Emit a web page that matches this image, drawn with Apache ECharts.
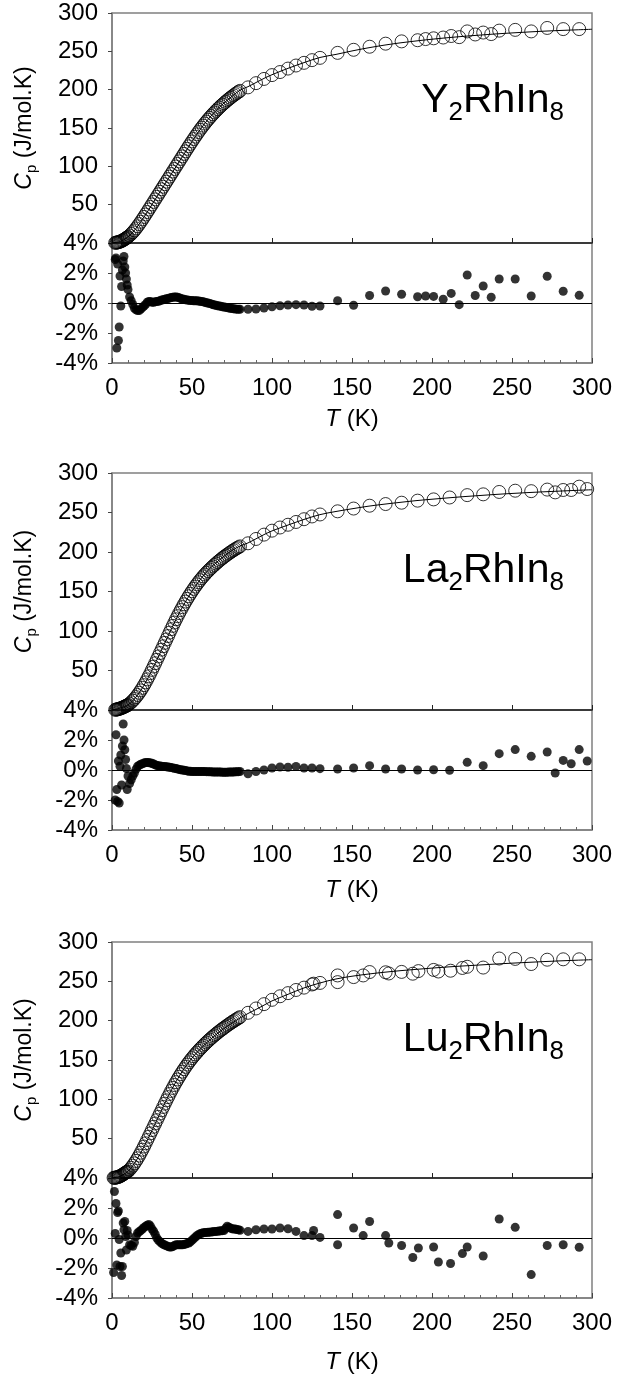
<!DOCTYPE html>
<html>
<head>
<meta charset="utf-8">
<script src="https://cdn.jsdelivr.net/npm/echarts@6/dist/echarts.min.js"></script>
<style>
html,body{margin:0;padding:0;background:#fff;}
#chart{width:617px;height:1384px;}
</style>
</head>
<body>
<div id="chart"></div>
<script>
// ---------------- DATA ----------------
const compounds = ['Y', 'La', 'Lu'];

// shared temperature grid of the dense low-T measurements (K)
const T_DENSE = [2,2.5,3,3.5,4,4.5,5,5.5,6,6.5,7,7.5,8,8.5,9,9.5,10,
  11,12,13,14,15,16,17,18,19,20,21,22,23,24,25,26,27,28,29,30,
  31,32,33,34,35,36,37,38,39,40,41,42,43,44,45,46,47,48,49,50,
  51,52,53,54,55,56,57,58,59,60,61,62,63,64,65,66,67,68,69,70,
  71,72,73,74,75,76,77,78,79,80,
  85,90,95,100,105,110,115,120,125,130];

// ---- Y2RhIn8 ----
const T1_SPARSE = [141,151,161,171,181,191,196,201,207,212,217,222,227,232,237,242,252,262,272,282,292];
const cp1_dense = [0.3,0.4,0.6,0.8,1.1,1.4,1.8,2.2,2.7,3.2,3.8,4.4,5.1,5.8,6.5,7.2,8.0,
  9.8,11.8,14.0,16.4,19.0,21.8,24.7,27.7,30.8,34.0,
  37.2,40.4,43.7,47.0,50.3,53.6,56.9,60.2,63.5,66.8,
  70.1,73.4,76.7,80.0,83.3,86.6,89.9,93.2,96.5,99.8,
  103.1,106.4,109.7,113.0,116.3,119.6,122.9,126.1,129.3,132.5,
  135.6,138.7,141.7,144.7,147.6,150.4,153.1,155.8,158.4,160.9,
  163.3,165.7,168.0,170.2,172.4,174.5,176.6,178.6,180.5,182.4,
  184.2,186.0,187.7,189.4,191.0,192.6,194.1,195.6,197.1,198.5,
  203,208.5,214,219,223,227.5,231.5,235,238.5,241.5];
const cp1_sparse = [248,252,256,260,263,264.5,266,267,268,270,268.5,276,272,274.5,272.5,277,278,276,280.5,279,279];
const res1_dense = [2.9,3.0,-3.0,2.6,-2.5,-1.6,1.8,-0.2,1.1,2.2,2.8,3.1,2.4,2.0,1.6,1.2,0.9,
  0.4,0.15,-0.1,-0.35,-0.45,-0.5,-0.5,-0.4,-0.3,-0.2,
  -0.1,0.05,0.1,0.1,0.05,0.05,0.08,0.1,0.12,0.15,
  0.2,0.22,0.25,0.28,0.3,0.33,0.36,0.38,0.4,0.4,
  0.38,0.35,0.3,0.27,0.25,0.22,0.2,0.18,0.17,0.16,
  0.15,0.15,0.15,0.13,0.12,0.1,0.08,0.05,0.02,0,
  -0.03,-0.06,-0.1,-0.13,-0.15,-0.18,-0.2,-0.22,-0.25,-0.27,
  -0.29,-0.3,-0.33,-0.35,-0.37,-0.38,-0.4,-0.41,-0.42,-0.42,
  -0.42,-0.4,-0.33,-0.25,-0.18,-0.13,-0.11,-0.13,-0.22,-0.2];
const res1_sparse = [0.15,-0.15,0.5,0.8,0.58,0.42,0.47,0.44,0.25,0.64,-0.11,1.87,0.5,1.13,0.38,1.6,1.6,0.47,1.78,0.78,0.51];

// ---- La2RhIn8 ----
const T2_SPARSE = [141,151,161,171,181,191,201,211,222,232,242,252,262,272,277,282,287,292,297];
const cp2_dense = [0.3,0.5,0.7,0.9,1.2,1.5,1.8,2.2,2.6,3.0,3.4,3.9,4.4,4.9,5.4,5.9,6.4,
  8.0,9.8,11.8,14.0,16.4,19.0,21.8,24.8,28.0,31.4,
  35.0,38.8,42.7,46.7,50.8,55.0,59.2,63.5,67.8,72.1,
  76.4,80.7,85.0,89.3,93.6,98.0,102.3,106.5,110.7,114.8,
  118.8,122.7,126.5,130.2,133.8,137.3,140.7,144.0,147.2,150.3,
  153.3,156.2,159.0,161.7,164.3,166.8,169.2,171.5,173.7,175.8,
  177.8,179.8,181.7,183.6,185.4,187.2,188.9,190.6,192.2,193.8,
  195.3,196.8,198.2,199.6,201.0,202.3,203.6,204.8,206.0,207.1,
  211,216.5,222,227,231,234.5,238,241.5,245,247.5];
const cp2_sparse = [251.5,255,258.6,260.7,262.4,265,266.6,269,272,273,276,277.6,277,279,275.5,278.5,278.5,282.7,279.7];
const res2_dense = [-2.0,2.35,-1.3,-2.1,0.6,-2.2,0.25,1.0,-1.0,1.6,3.07,2.0,1.35,0.7,0.1,-1.3,-0.4,
  -0.9,-0.65,-0.4,-0.2,0.05,0.25,0.32,0.38,0.42,0.46,
  0.5,0.5,0.5,0.47,0.45,0.4,0.35,0.3,0.28,0.27,
  0.25,0.24,0.23,0.22,0.2,0.18,0.16,0.14,0.12,0.1,
  0.07,0.04,0.02,0,-0.02,-0.04,-0.06,-0.08,-0.09,-0.1,
  -0.1,-0.1,-0.1,-0.1,-0.1,-0.1,-0.1,-0.1,-0.11,-0.11,
  -0.12,-0.12,-0.13,-0.13,-0.13,-0.14,-0.14,-0.14,-0.15,-0.15,
  -0.15,-0.15,-0.14,-0.14,-0.13,-0.13,-0.12,-0.12,-0.11,-0.1,
  -0.25,-0.1,0,0.13,0.2,0.18,0.24,0.13,0.13,0.09];
const res2_sparse = [0.07,0.13,0.29,0.07,0.07,0,0.02,-0.02,0.51,0.29,1.09,1.36,0.91,1.2,-0.2,0.64,0.42,1.36,0.6];

// ---- Lu2RhIn8 ----
const T3_LOW = [1,1.5];
const T3_SPARSE = [126,141,141,151,157,161,171,173,181,188,191.5,201,204,211.6,219,222,232,242,252,262,272,282,292];
const cp3_low = [0.2,0.3];
const cp3_dense = [0.4,0.6,0.8,1.1,1.4,1.8,2.3,2.8,3.4,4.0,4.7,5.4,6.1,6.8,7.5,8.0,8.5,
  10.6,13.0,15.7,18.6,21.7,25.0,28.5,32.2,36.0,40.0,
  44.1,48.3,52.5,56.7,60.9,65.1,69.3,73.5,77.7,81.9,
  86.1,90.3,94.5,98.7,102.8,106.8,110.7,114.5,118.2,121.8,
  125.3,128.7,132.0,135.2,138.3,141.3,144.2,147.0,149.7,152.3,
  154.8,157.2,159.5,161.8,164.0,166.1,168.2,170.2,172.2,174.1,
  176.0,177.8,179.6,181.3,183.0,184.7,186.3,187.9,189.4,190.9,
  192.4,193.9,195.3,196.7,198.1,199.4,200.7,202.0,203.3,204.5,
  210,215.5,221,226.5,231,235,239,242,246,248];
const cp3_sparse = [247,257.5,249,255.4,257.5,261.8,261.5,260,262,259.7,263,264.5,262.5,263.5,267,268.5,267.5,279,278.5,272,277.5,278,278];
const res3_low = [-2.3,3.1];
const res3_dense = [0.3,2.3,-1.8,1.7,1.8,-0.1,-1.9,-1.0,-2.5,-1.9,1.0,0.55,1.1,0.1,-0.8,0.5,0.2,
  -0.45,-0.5,-0.55,-0.3,0.1,0.33,0.42,0.5,0.6,0.7,
  0.78,0.85,0.9,0.8,0.6,0.45,0.25,0,-0.15,-0.25,
  -0.35,-0.42,-0.47,-0.52,-0.56,-0.6,-0.6,-0.57,-0.5,-0.45,
  -0.45,-0.45,-0.45,-0.45,-0.43,-0.4,-0.36,-0.33,-0.25,-0.15,
  -0.05,0.05,0.15,0.22,0.28,0.32,0.35,0.36,0.37,0.38,
  0.39,0.4,0.41,0.43,0.44,0.45,0.47,0.48,0.49,0.5,
  0.65,0.78,0.72,0.66,0.62,0.6,0.6,0.57,0.55,0.52,
  0.44,0.55,0.6,0.6,0.67,0.62,0.44,0.16,0.16,0.04];
const res3_sparse = [0.5,1.56,-0.45,0.67,0.16,1.1,0.16,-0.33,-0.5,-1.3,-0.67,-0.6,-1.6,-1.7,-1.04,-0.6,-1.2,1.27,0.71,-2.44,-0.5,-0.45,-0.62];

// fitted curves
const T_FIT = [0,5,10,15,20,25,30,35,40,45,50,55,60,65,70,75,80,85,90,95,100,
  110,120,130,140,150,160,170,180,190,200,210,220,230,240,250,260,270,280,290,300];
const fit1 = [0,1.9,8,19,34,50.2,66.8,83.3,99.5,116,132.3,147.6,161.2,172.6,182.6,191.3,199.3,203.9,209.3,214.7,219.5,
  227.8,235.3,242,246,250.5,254.5,258,261,263.5,265.8,267.8,269.6,271.2,272.7,274,275.2,276.3,277.2,278,278.8];
const fit2 = [0,2.4,6.4,16.4,31.3,50.6,71.9,93.4,114.7,133.8,150.4,164.7,176.8,186.3,194.7,202.0,207.5,211.5,216.7,222.0,226.7,
  234.1,241.2,247.3,251.3,254.7,257.9,260.5,262.8,265,266.8,268.5,270.1,271.5,272.9,274.1,275.2,276.2,277.1,278,278.8];
const fit3 = [0,2.3,8.5,21.7,39.8,60.5,82.1,103.3,122.4,138.9,152.5,163.6,173.4,182.2,190.0,196.9,203.4,209.1,214.3,219.7,225.1,
  233.5,241.6,247.9,253,256.5,259.2,261.5,263.5,265.2,266.8,268.3,269.6,270.8,272,273.1,274.1,275.1,276,276.8,277.5];

// axis ticks
const X_TICKS = {min: 0, max: 300, interval: 50};
const CP_TICKS = {min: 0, max: 300, interval: 50};
const RES_TICKS = {min: -4, max: 4, interval: 2};

// ---------------- ASSEMBLY ----------------
function check(a, b, name) { if (a.length !== b.length) throw new Error(name + ' length mismatch ' + a.length + ' vs ' + b.length); }
function zip(xs, ys) { return xs.map((x, i) => [x, ys[i]]); }

const T1 = T_DENSE.concat(T1_SPARSE);
const T2 = T_DENSE.concat(T2_SPARSE);
const T3 = T3_LOW.concat(T_DENSE, T3_SPARSE);
const cp = [cp1_dense.concat(cp1_sparse), cp2_dense.concat(cp2_sparse), cp3_low.concat(cp3_dense, cp3_sparse)];
const res = [res1_dense.concat(res1_sparse), res2_dense.concat(res2_sparse), res3_low.concat(res3_dense, res3_sparse)];
const Ts = [T1, T2, T3];
const fits = [fit1, fit2, fit3];
for (let i = 0; i < 3; i++) { check(Ts[i], cp[i], 'cp' + i); check(Ts[i], res[i], 'res' + i); check(T_FIT, fits[i], 'fit' + i); }

// layout (pixels)
const LEFT = 112, WIDTH = 480;
const layout = [
  {top: 13, upH: 230, resH: 120, name: 88, tk: 56},
  {top: 473, upH: 237, resH: 120, name: 98, tk: 60},
  {top: 942, upH: 236, resH: 120, name: 98, tk: 64}
];
const FONT = 'Liberation Sans, Arial, Helvetica, sans-serif';
const FS = 24;
const FRAME = '#808080';

const grid = [], xAxis = [], yAxis = [], series = [], graphic = [];
layout.forEach((L, i) => {
  grid.push({left: LEFT, width: WIDTH, top: L.top, height: L.upH, show: true, borderColor: FRAME, borderWidth: 1.5, backgroundColor: 'transparent'});
  grid.push({left: LEFT, width: WIDTH, top: L.top + L.upH, height: L.resH, show: true, borderColor: FRAME, borderWidth: 1.5, backgroundColor: 'transparent'});
  // x axes
  xAxis.push(Object.assign({type: 'value', gridIndex: 2 * i, position: 'bottom',
    axisLine: {show: true, onZero: false, lineStyle: {color: '#222', width: 1.5}},
    axisTick: {show: true, inside: true, length: 5, lineStyle: {color: '#222', width: 1}},
    axisLabel: {show: false}, splitLine: {show: false}}, X_TICKS));
  xAxis.push(Object.assign({type: 'value', gridIndex: 2 * i + 1, position: 'bottom',
    axisLine: {show: true, onZero: false, lineStyle: {color: FRAME, width: 1.5}},
    axisTick: {show: true, inside: true, length: 5, lineStyle: {color: '#444', width: 1}},
    minorTick: {show: true, splitNumber: 5, length: 3, lineStyle: {color: '#666', width: 1}},
    axisLabel: {show: true, fontSize: FS, fontFamily: FONT, color: '#000', margin: 13},
    splitLine: {show: false}}, X_TICKS));
  // y axes (upper left, upper right, residual left, residual right)
  yAxis.push(Object.assign({type: 'value', gridIndex: 2 * i, position: 'left',
    axisLine: {show: true, onZero: false, lineStyle: {color: FRAME, width: 1.5}},
    axisTick: {show: true, inside: false, length: 3, lineStyle: {color: '#444'}},
    axisLabel: {show: true, fontSize: FS, fontFamily: FONT, color: '#000', margin: 14,
      formatter: v => (v === 0 ? '' : String(v))},
    splitLine: {show: false}}, CP_TICKS));
  yAxis.push(Object.assign({type: 'value', gridIndex: 2 * i, position: 'right',
    axisLine: {show: false}, axisTick: {show: true, inside: true, length: 4, lineStyle: {color: '#444'}},
    axisLabel: {show: false}, splitLine: {show: false}}, CP_TICKS));
  yAxis.push(Object.assign({type: 'value', gridIndex: 2 * i + 1, position: 'left',
    axisLine: {show: true, onZero: false, lineStyle: {color: FRAME, width: 1.5}},
    axisTick: {show: true, inside: false, length: 3, lineStyle: {color: '#444'}},
    axisLabel: {show: true, fontSize: FS, fontFamily: FONT, color: '#000', margin: 14,
      formatter: v => v + '%'},
    splitLine: {show: false}}, RES_TICKS));
  yAxis.push(Object.assign({type: 'value', gridIndex: 2 * i + 1, position: 'right',
    axisLine: {show: false}, axisTick: {show: true, inside: true, length: 4, lineStyle: {color: '#444'}},
    axisLabel: {show: false}, splitLine: {show: false}}, RES_TICKS));

  // series
  series.push({type: 'line', xAxisIndex: 2 * i, yAxisIndex: 4 * i, data: zip(T_FIT, fits[i]),
    smooth: 0.35, showSymbol: false, symbol: 'none', lineStyle: {color: '#000', width: 1}, z: 2, silent: true, animation: false});
  series.push({type: 'scatter', xAxisIndex: 2 * i, yAxisIndex: 4 * i, data: zip(Ts[i], cp[i]),
    symbol: 'circle', symbolSize: 13, clip: false,
    itemStyle: {color: 'rgba(0,0,0,0)', borderColor: '#000', borderWidth: 1}, z: 3, silent: true, animation: false});
  series.push({type: 'scatter', xAxisIndex: 2 * i + 1, yAxisIndex: 4 * i + 2, data: zip(Ts[i], res[i]),
    symbol: 'circle', symbolSize: 9, clip: false,
    itemStyle: {color: '#000'}, z: 3, silent: true, animation: false,
    markLine: {silent: true, symbol: ['none', 'none'], label: {show: false},
      lineStyle: {color: '#000', width: 1, type: 'solid'}, data: [{yAxis: 0}], animation: false}});

  // texts
  graphic.push({type: 'text', x: 25, y: L.top + L.upH / 2, rotation: Math.PI / 2,
    style: {text: '{i|C}{s|p} (J/mol.K)', fontSize: 23, fontFamily: FONT, fill: '#000', align: 'center', verticalAlign: 'middle',
      rich: {i: {fontStyle: 'italic', fontSize: 23, fontFamily: FONT}, s: {fontSize: 15, fontFamily: FONT, padding: [13, 0, 0, 0]}}}});
  graphic.push({type: 'text', x: 564, y: L.top + L.name,
    style: {text: compounds[i] + '{s|2}RhIn{s|8}', fontSize: 41, fontFamily: FONT, fill: '#000', align: 'right', verticalAlign: 'middle',
      rich: {s: {fontSize: 26, fontFamily: FONT, padding: [24, 0, 0, 0]}}}});
  graphic.push({type: 'text', x: LEFT + WIDTH / 2, y: L.top + L.upH + L.resH + L.tk,
    style: {text: '{i|T} (K)', fontSize: FS, fontFamily: FONT, fill: '#000', align: 'center', verticalAlign: 'middle',
      rich: {i: {fontStyle: 'italic', fontSize: FS, fontFamily: FONT}}}});
});

const chart = echarts.init(document.getElementById('chart'), null, {renderer: 'canvas'});
chart.setOption({animation: false, backgroundColor: '#fff', grid, xAxis, yAxis, series, graphic});
</script>
</body>
</html>
